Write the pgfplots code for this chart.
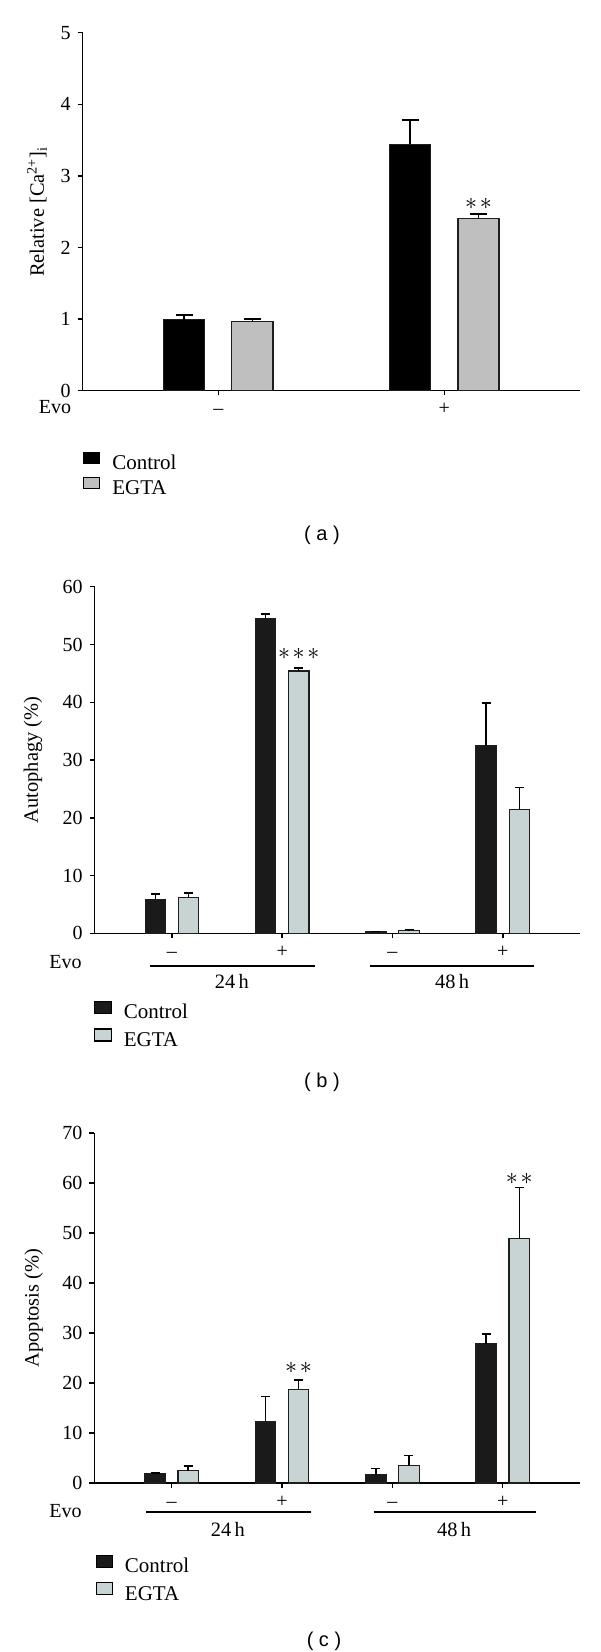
\documentclass[border=0pt]{standalone}
\usepackage{fontspec}
\setmainfont{Liberation Serif}
\newfontfamily\sansf{Liberation Sans}
\usepackage{pgfplots}
\pgfplotsset{compat=1.18}
\definecolor{ctrlB}{RGB}{26,26,26}
\definecolor{egtaA}{RGB}{191,191,191}
\definecolor{egtaB}{RGB}{200,212,212}
\definecolor{edge}{RGB}{30,30,30}

\tikzset{stars/.style={font=\fontsize{11.5}{13}\selectfont}}
\pgfplotsset{
  panel/.style={
    scale only axis,
    anchor=south west,
    axis x line*=bottom,
    axis y line*=left,
    axis line style={line width=0.75pt, black},
    tick style={line width=0.75pt, black},
    tick align=outside,
    major tick length=2.5pt,
    ymin=0,
    clip=false,
    /pgf/number format/assume math mode=true,
    ticklabel style={font=\fontsize{10}{12}\selectfont},
    label style={font=\fontsize{10.2}{12}\selectfont},
    xticklabel style={anchor=base, yshift=-9.7pt},
    legend cell align=left,
  },
  errb/.style={
    /pgfplots/error bars/y dir=plus,
    /pgfplots/error bars/y explicit,
    /pgfplots/error bars/error bar style={line width=0.75pt, black},
    /pgfplots/error bars/error mark options={rotate=90, black, line width=0.75pt, mark size=#1},
  },
  leg/.style={
    legend style={draw=none, fill=none, anchor=north west, inner sep=0pt,
      row sep=#1, column sep=0pt,
      nodes={inner sep=0pt, text height=7pt, text depth=1pt, font=\fontsize{10.5}{12}\selectfont},
      /tikz/every odd column/.append style={column sep=6pt}},
  },
}

\begin{document}
\begin{tikzpicture}
\useasboundingbox (0,0) rectangle (300pt,-826pt);

% ---------------- (a) ----------------
\begin{axis}[panel, at={(41.35pt,-195.25pt)}, width=248.65pt, height=178.9pt,
  xmin=-0.6, xmax=1.6, ymax=5, ytick={0,1,2,3,4,5},
  xtick={0,1}, xticklabels={\textendash,+},
  ylabel={Relative [Ca\textsuperscript{2+}]\textsubscript{i}},
  ylabel style={at={(axis description cs:-0.092,0.5)}, anchor=center},
  leg=3pt, legend style={at={(axis description cs:0.0,-0.171)}}]
\addplot[ybar, bar width=0.182, bar shift=0pt, fill=black, draw=edge, line width=0.6pt, errb=4.25pt,
  legend image code/.code={\draw[fill=black, draw=black, line width=0.6pt] (0pt,-0.3pt) rectangle (8pt,5.2pt);}]
  coordinates {(-0.151,0.99) +- (0,0.065) (0.849,3.44) +- (0,0.34)};
\addlegendentry{Control}
\addplot[ybar, bar width=0.182, bar shift=0pt, fill=egtaA, draw=edge, line width=0.6pt, errb=4.25pt,
  legend image code/.code={\draw[fill=egtaA, draw=black, line width=0.6pt] (0pt,-0.3pt) rectangle (8pt,5.2pt);}]
  coordinates {(0.151,0.96) +- (0,0.04) (1.151,2.40) +- (0,0.065)};
\addlegendentry{EGTA}
\node[font=\fontsize{10}{12}\selectfont] at (axis description cs:-0.0557,-0.0475) {Evo};
\node[stars] at (axis cs:1.151,2.61) {${\ast}\mkern2mu{\ast}$};
\end{axis}
\node[font=\sansf\fontsize{10}{12}\selectfont] at (161pt,-267.5pt) {( a )};

% ---------------- (b) ----------------
\begin{axis}[panel, at={(47.35pt,-466.65pt)}, width=242.65pt, height=173.3pt,
  xmin=-0.7, xmax=3.7, ymax=60, ytick={0,10,...,60},
  xtick={0,1,2,3}, xticklabels={\textendash,+,\textendash,+},
  ylabel={Autophagy (\%)},
  ylabel style={at={(axis description cs:-0.127,0.5)}, anchor=center},
  leg=3.75pt, legend style={at={(axis description cs:-0.003,-0.194)}}]
\addplot[ybar, bar width=0.185, bar shift=0pt, fill=ctrlB, draw=edge, line width=0.6pt, errb=2.25pt,
  legend image code/.code={\draw[fill=ctrlB, draw=black, line width=0.6pt] (0pt,-0.3pt) rectangle (8.5pt,5.7pt);}]
  coordinates {(-0.15,5.8) +- (0,1.0) (0.85,54.5) +- (0,0.8) (1.85,0.3) +- (0,0) (2.85,32.5) +- (0,7.4)};
\addlegendentry{Control}
\addplot[ybar, bar width=0.185, bar shift=0pt, fill=egtaB, draw=edge, line width=0.6pt, errb=2.25pt,
  legend image code/.code={\draw[fill=egtaB, draw=black, line width=0.6pt] (0pt,-0.3pt) rectangle (8.5pt,5.7pt);}]
  coordinates {(0.15,6.15) +- (0,0.87) (1.15,45.4) +- (0,0.5) (2.15,0.46) +- (0,0.17) (3.15,21.4) +- (0,3.8)};
\addlegendentry{EGTA}
\node[font=\fontsize{10}{12}\selectfont] at (axis description cs:-0.060,-0.082) {Evo};
\draw[line width=0.65pt] ([yshift=-16.35pt]axis cs:-0.2,0) -- ([yshift=-16.35pt]axis cs:1.3,0);
\draw[line width=0.65pt] ([yshift=-16.35pt]axis cs:1.8,0) -- ([yshift=-16.35pt]axis cs:3.28,0);
\node[font=\fontsize{10.2}{12}\selectfont] at ([yshift=-24.2pt]axis cs:0.544,0) {24\,h};
\node[font=\fontsize{10.2}{12}\selectfont] at ([yshift=-24.2pt]axis cs:2.54,0) {48\,h};
\node[stars] at (axis cs:1.15,48.3) {${\ast}\mkern2mu{\ast}\mkern2mu{\ast}$};
\end{axis}
\node[font=\sansf\fontsize{10}{12}\selectfont] at (161pt,-541pt) {( b )};

% ---------------- (c) ----------------
\begin{axis}[panel, at={(47.2pt,-741.5pt)}, width=242.8pt, height=175pt,
  xmin=-0.7, xmax=3.7, ymax=70, ytick={0,10,...,70},
  xtick={0,1,2,3}, xticklabels={\textendash,+,\textendash,+},
  ylabel={Apoptosis (\%)},
  ylabel style={at={(axis description cs:-0.125,0.5)}, anchor=center},
  leg=3.75pt, legend style={at={(axis description cs:0.002,-0.2037)}}]
\addplot[ybar, bar width=0.185, bar shift=0pt, fill=ctrlB, draw=edge, line width=0.6pt, errb=2.25pt,
  legend image code/.code={\draw[fill=ctrlB, draw=black, line width=0.6pt] (0pt,-0.3pt) rectangle (8pt,5.7pt);}]
  coordinates {(-0.15,1.9) +- (0,0.15) (0.85,12.2) +- (0,5.1) (1.85,1.65) +- (0,1.3) (2.85,27.9) +- (0,1.9)};
\addlegendentry{Control}
\addplot[ybar, bar width=0.185, bar shift=0pt, fill=egtaB, draw=edge, line width=0.6pt, errb=2.25pt,
  legend image code/.code={\draw[fill=egtaB, draw=black, line width=0.6pt] (0pt,-0.3pt) rectangle (8pt,5.7pt);}]
  coordinates {(0.15,2.5) +- (0,0.92) (1.15,18.7) +- (0,1.9) (2.15,3.5) +- (0,2.05) (3.15,48.9) +- (0,10.2)};
\addlegendentry{EGTA}
\node[font=\fontsize{10}{12}\selectfont] at (axis description cs:-0.0597,-0.08) {Evo};
\draw[line width=0.65pt] ([yshift=-14.5pt]axis cs:-0.23,0) -- ([yshift=-14.5pt]axis cs:1.26,0);
\draw[line width=0.65pt] ([yshift=-14.5pt]axis cs:1.83,0) -- ([yshift=-14.5pt]axis cs:3.30,0);
\node[font=\fontsize{10.2}{12}\selectfont] at ([yshift=-23.15pt]axis cs:0.51,0) {24\,h};
\node[font=\fontsize{10.2}{12}\selectfont] at ([yshift=-23.15pt]axis cs:2.56,0) {48\,h};
\node[stars] at (axis cs:1.15,23.0) {${\ast}\mkern2mu{\ast}$};
\node[stars] at (axis cs:3.15,60.9) {${\ast}\mkern2mu{\ast}$};
\end{axis}
\node[font=\sansf\fontsize{10}{12}\selectfont] at (162pt,-820.5pt) {( c )};
\end{tikzpicture}
\end{document}
